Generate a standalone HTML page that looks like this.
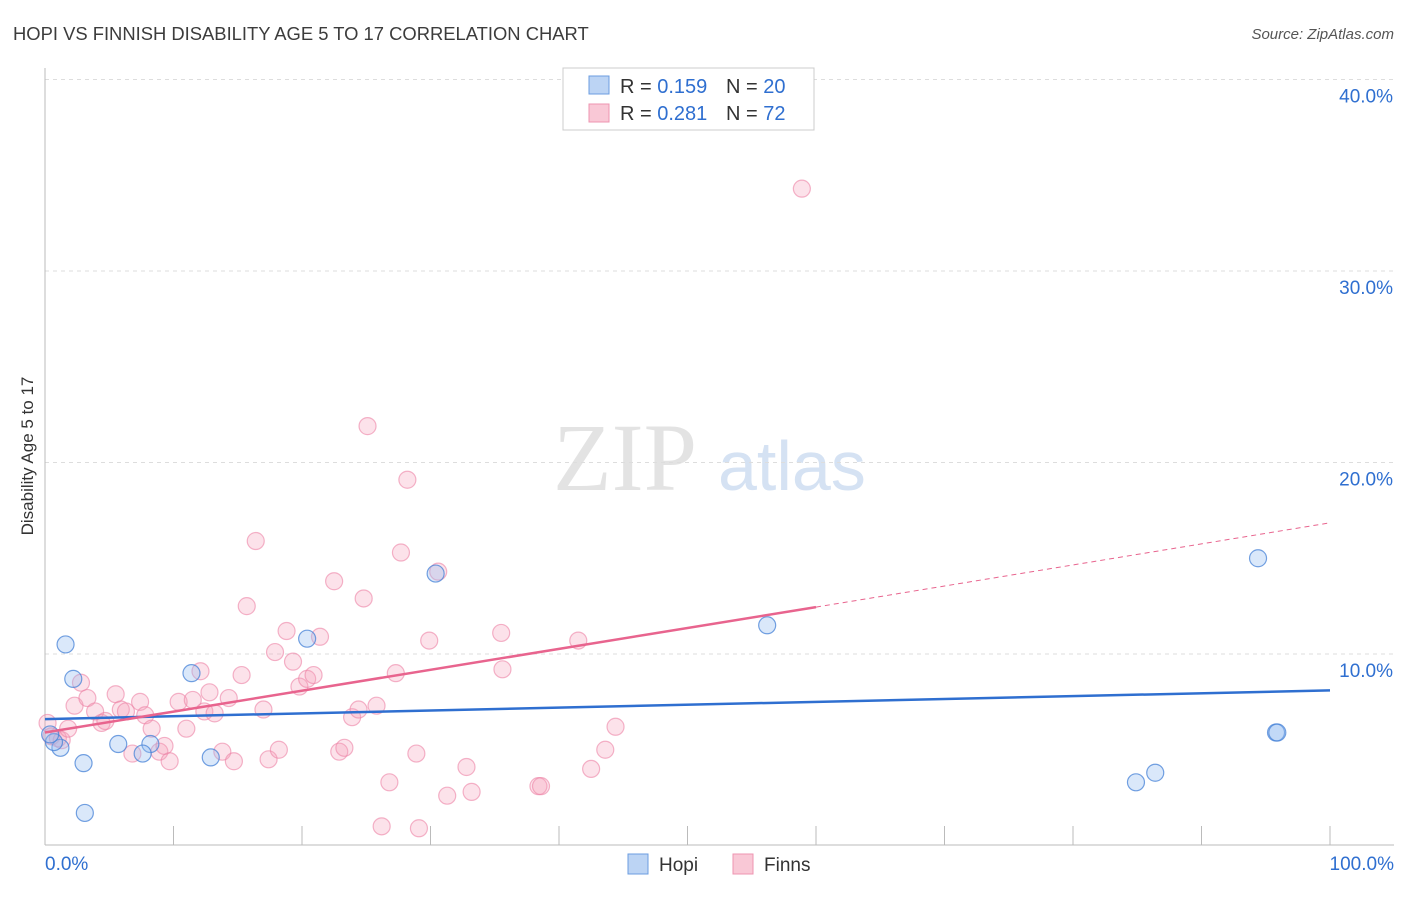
<!DOCTYPE html>
<html><head><meta charset="utf-8"><style>
body{margin:0;background:#fff;font-family:"Liberation Sans",sans-serif}
</style></head><body>
<svg id="chart" width="1406" height="892" xmlns="http://www.w3.org/2000/svg" font-family="Liberation Sans, sans-serif">
<text x="13" y="40" font-size="18.4" fill="#3c3c3c">HOPI VS FINNISH DISABILITY AGE 5 TO 17 CORRELATION CHART</text>
<text x="1394" y="39" font-size="15" fill="#555" text-anchor="end" font-style="italic">Source: ZipAtlas.com</text>
<text transform="translate(33,456) rotate(-90)" font-size="17" fill="#333" text-anchor="middle">Disability Age 5 to 17</text>
<g>
<text x="553" y="490" font-size="96" fill="#d8d8d8" style="font-family:'Liberation Serif',serif" opacity="0.7">ZIP</text>
<text x="718" y="490" font-size="70" fill="#c4d6ee" opacity="0.7">atlas</text>
</g>
<g id="grid"></g><g id="axes"></g><g id="pts"></g><g id="trend"></g>
<g>
<rect x="563" y="68" width="251" height="62" fill="#fff" stroke="#ccc"/>
<rect x="589" y="76" width="20" height="18" fill="#bcd4f4" stroke="#6b9de0"/>
<rect x="589" y="104" width="20" height="18" fill="#f9c8d6" stroke="#ee94b0"/>
<text x="620" y="93" font-size="20" fill="#333">R = <tspan fill="#2f6fd0">0.159</tspan></text>
<text x="726" y="93" font-size="20" fill="#333">N = <tspan fill="#2f6fd0">20</tspan></text>
<text x="620" y="120" font-size="20" fill="#333">R = <tspan fill="#2f6fd0">0.281</tspan></text>
<text x="726" y="120" font-size="20" fill="#333">N = <tspan fill="#2f6fd0">72</tspan></text>
</g>
<g>
<rect x="628" y="854" width="20" height="20" fill="#bcd4f4" stroke="#6b9de0"/>
<text x="659" y="871" font-size="19" fill="#333">Hopi</text>
<rect x="733" y="854" width="20" height="20" fill="#f9c8d6" stroke="#ee94b0"/>
<text x="764" y="871" font-size="19" fill="#333">Finns</text>
</g>
</svg>
<script>
const yTicks=[10,20,30,40];
const yTickLabels=["10.0%","20.0%","30.0%","40.0%"];
const xTickLabels=["0.0%","100.0%"];
const hopiX=[1.6,2.2,1.2,0.7,3.0,3.1,5.7,8.2,7.6,11.4,12.9,20.4,30.4,56.2,84.9,86.4,94.4,95.8,95.9,0.4];
const hopiY=[10.5,8.7,5.1,5.4,4.3,1.7,5.3,5.3,4.8,9.0,4.6,10.8,14.2,11.5,3.3,3.8,15.0,5.9,5.9,5.8];
const finnX=[0.2,0.5,1.0,1.3,1.8,2.3,2.8,3.3,3.9,4.4,4.7,5.5,5.9,6.3,6.8,7.4,7.8,8.3,8.9,9.3,9.7,10.4,11.0,11.5,12.1,12.4,12.8,13.2,13.8,14.3,14.7,15.3,15.7,16.4,17.0,17.4,18.2,17.9,18.8,19.3,19.8,20.4,20.9,21.4,22.5,22.9,23.3,23.9,24.4,24.8,25.1,25.8,26.8,27.3,27.7,28.2,28.9,29.1,26.2,29.9,30.6,31.3,32.8,33.2,35.5,35.6,38.4,38.6,41.5,42.5,43.6,44.4,58.9];
const finnY=[6.4,5.7,5.6,5.5,6.1,7.3,8.5,7.7,7.0,6.4,6.5,7.9,7.1,7.0,4.8,7.5,6.8,6.1,4.9,5.2,4.4,7.5,6.1,7.6,9.1,7.0,8.0,6.9,4.9,7.7,4.4,8.9,12.5,15.9,7.1,4.5,5.0,10.1,11.2,9.6,8.3,8.7,8.9,10.9,13.8,4.9,5.1,6.7,7.1,12.9,21.9,7.3,3.3,9.0,15.3,19.1,4.8,0.9,1.0,10.7,14.3,2.6,4.1,2.8,11.1,9.2,3.1,3.1,10.7,4.0,5.0,6.2,34.3];
const X=v=>45+v*12.85, Y=v=>845.5-v*19.15;
const NS="http://www.w3.org/2000/svg";
function mk(t,p,a){const e=document.createElementNS(NS,t);for(const k in a)e.setAttribute(k,a[k]);p.appendChild(e);return e;}
const grid=document.getElementById('grid'),axes=document.getElementById('axes'),pts=document.getElementById('pts'),tr=document.getElementById('trend');
yTicks.forEach((t,i)=>{
 const l=mk('line',grid,{x1:45,x2:1394,y1:Y(t),y2:Y(t),stroke:'#ddd','stroke-dasharray':'4,4'});
 
 
 const tx=mk('text',grid,{x:1393,y:Y(t)+23,'font-size':19,fill:'#2f6fd0','text-anchor':'end'});
 tx.textContent=yTickLabels[i];
 
 
});
let a=mk('line',axes,{x1:45,x2:45,y1:68,y2:845,stroke:'#bbb'});


a=mk('line',axes,{x1:45,x2:1394,y1:845,y2:845,stroke:'#bbb'});


for(let i=1;i<=10;i++){
 const t=mk('line',axes,{x1:X(i*10),x2:X(i*10),y1:826,y2:845,stroke:'#bbb'});
 
 
}
[[0,'start',45],[1,'end',1394]].forEach(([i,anc,x])=>{
 const t=mk('text',axes,{x:x,y:870,'font-size':19,fill:'#2f6fd0','text-anchor':anc});
 t.textContent=xTickLabels[i];
 
 
});
finnX.forEach((v,i)=>{
 const c=mk('circle',pts,{cx:X(v),cy:Y(finnY[i]),r:8.5,fill:'rgba(245,160,185,0.3)',stroke:'rgba(236,130,165,0.6)','stroke-width':1.2});
 
 
});
hopiX.forEach((v,i)=>{
 const c=mk('circle',pts,{cx:X(v),cy:Y(hopiY[i]),r:8.5,fill:'rgba(150,190,240,0.35)',stroke:'rgba(70,130,215,0.75)','stroke-width':1.2});
 
 
});
let l=mk('line',tr,{x1:X(0),y1:Y(6.6),x2:X(100),y2:Y(8.1),stroke:'#2f6fd0','stroke-width':2.5});


l=mk('line',tr,{x1:X(0),y1:Y(5.9),x2:X(60),y2:Y(12.45),stroke:'#e8648e','stroke-width':2.5});


l=mk('line',tr,{x1:X(60),y1:Y(12.45),x2:X(100),y2:Y(16.85),stroke:'#e8648e','stroke-width':1,'stroke-dasharray':'5,4'});


</script>
</body></html>
